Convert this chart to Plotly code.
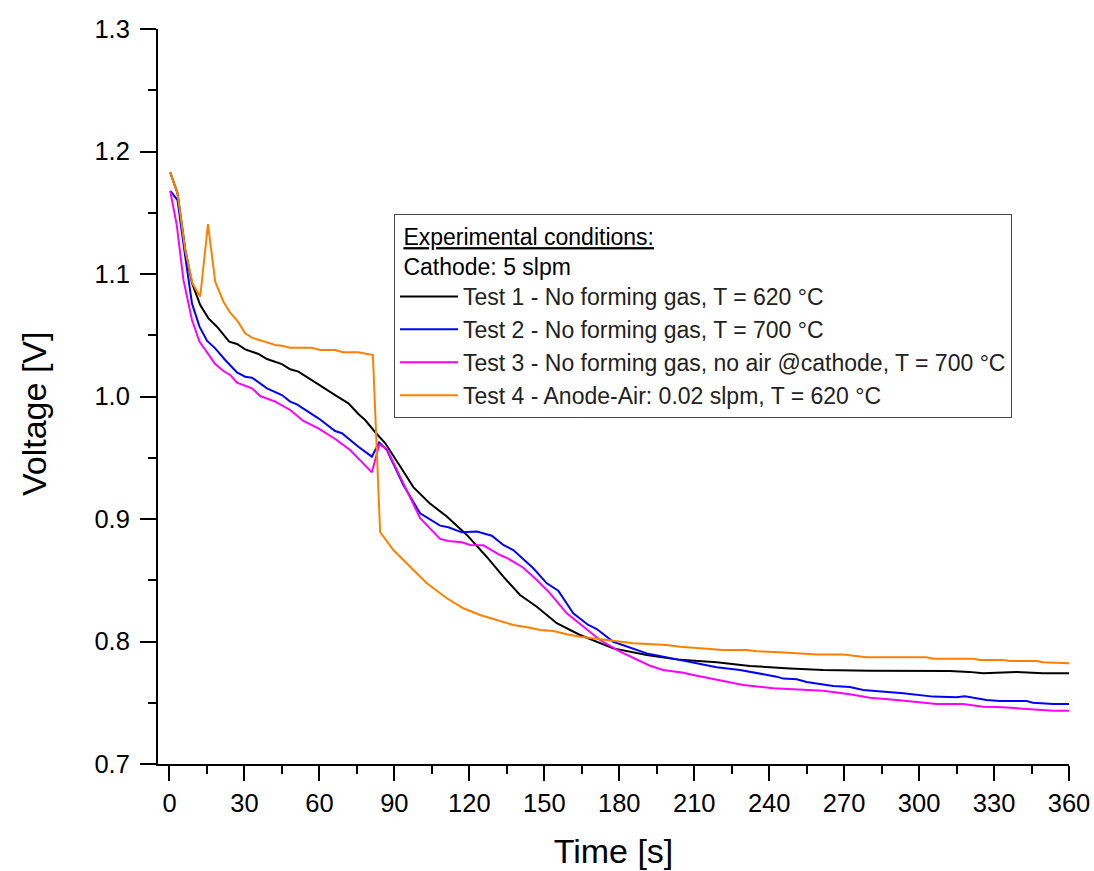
import plotly.graph_objects as go

# ---- data ----
t1 = [0.3, 3.2, 6.3, 9, 12.3, 15.6, 19, 23.9, 27, 30.3, 35.6, 39, 45, 48.3, 51.6, 57, 61, 66.3, 71.6, 75.6,
      78.3, 82.7, 86.3, 92.3, 97.6, 104, 111, 119, 127, 133.6, 140.3, 147, 155, 164.3, 177.6, 191, 204.3, 219,
      232.3, 248.3, 261.6, 280.3, 312.3, 320, 325.7, 339, 349.6, 360]
v1 = [1.183, 1.166, 1.12, 1.0927, 1.0747, 1.0638, 1.057, 1.0448, 1.0429, 1.0385, 1.0347, 1.0306, 1.0265,
      1.0222, 1.0203, 1.0129, 1.008, 1.0012, 0.9944, 0.9857, 0.9808, 0.970, 0.962, 0.943, 0.926, 0.913, 0.902,
      0.887, 0.869, 0.853, 0.838, 0.8284, 0.8149, 0.8053, 0.7944, 0.789, 0.785, 0.783, 0.780, 0.778, 0.7767,
      0.7762, 0.7759, 0.7752, 0.774, 0.7751, 0.774, 0.774]

t2 = [0.3, 3.2, 6.3, 9, 12, 15, 18.3, 22.3, 27, 30.3, 33, 39, 45, 48.3, 51, 59.6, 66.3, 69, 75.6, 81,
      83.9, 87, 93.6, 100.3, 108.3, 111.6, 117, 123, 129, 133.6, 137.6, 145.6, 151, 155.6, 161.6, 167.6, 171,
      177.6, 191, 205.6, 219, 228.3, 243, 245.6, 251, 255, 265.6, 272.3, 277.6, 293.6, 305.6, 315, 318.3, 327,
      332.3, 343, 345.6, 353.6, 360]
v2 = [1.1678, 1.1604, 1.1141, 1.076, 1.057, 1.0456, 1.0393, 1.0298, 1.0197, 1.0162, 1.0154, 1.0067, 1.0012,
      0.9958, 0.9936, 0.9822, 0.9718, 0.970, 0.959, 0.9509, 0.9625, 0.9563, 0.9278, 0.9046, 0.8946, 0.8932,
      0.8891, 0.8897, 0.8864, 0.8788, 0.8747, 0.8598, 0.8475, 0.8415, 0.823, 0.8135, 0.8102, 0.7998, 0.7903,
      0.7841, 0.779, 0.7767, 0.7713, 0.7697, 0.7691, 0.767, 0.7637, 0.7629, 0.7604, 0.7577, 0.755, 0.7544,
      0.7553, 0.7522, 0.7514, 0.7514, 0.75, 0.749, 0.749]

t3 = [0.3, 2.9, 5.6, 9, 12, 15, 18.3, 21.6, 24.3, 27, 33, 36.3, 42.3, 48.3, 53.6, 59.6, 66.3, 72.3, 76.3, 81,
      84, 87, 93.6, 100.3, 108.3, 111.6, 117, 120.3, 125.6, 132.3, 135.6, 141.6, 147, 152.3, 159, 165.6, 172.3,
      180.3, 187, 192.3, 197.6, 205.6, 209.6, 219, 229.6, 241.6, 252.3, 261.6, 272.3, 280.3, 291, 307, 317.6,
      325.7, 333.6, 344.3, 353.6, 360]
v3 = [1.1678, 1.14, 1.095, 1.0624, 1.0448, 1.0361, 1.0265, 1.0208, 1.0176, 1.0113, 1.0067, 1.0004, 0.9958,
      0.989, 0.980, 0.974, 0.9653, 0.9563, 0.9482, 0.9381, 0.961, 0.957, 0.9291, 0.9006, 0.8837, 0.882, 0.881,
      0.8788, 0.8785, 0.8706, 0.8676, 0.8602, 0.8502, 0.8393, 0.823, 0.8121, 0.8012, 0.7917, 0.7849, 0.7802,
      0.7767, 0.7745, 0.7727, 0.7686, 0.7645, 0.7618, 0.761, 0.7598, 0.7569, 0.7541, 0.7522, 0.749, 0.749,
      0.7468, 0.7463, 0.7447, 0.7435, 0.7435]

t4 = [0.3, 3.2, 6.3, 9.2, 12.3, 15.4, 18.3, 21.6, 24.3, 27.4, 30.3, 33, 39, 42.3, 45, 48.3, 57, 60.3, 66.3,
      69.4, 75.6, 81.4, 84.3, 89.6, 97.6, 103, 111, 117.6, 124.3, 131, 137.6, 144.3, 148.3, 153.6, 159, 164.3,
      175, 185.6, 199, 204.3, 216.3, 221.6, 231, 235, 244.3, 253.6, 259, 269.6, 275, 279, 303, 305.6, 321.6,
      324.3, 333.6, 336.3, 347, 349.6, 360]
v4 = [1.183, 1.166, 1.1196, 1.0924, 1.0815, 1.1408, 1.0937, 1.0774, 1.0684, 1.0611, 1.0516, 1.048, 1.0442,
      1.042, 1.0415, 1.0398, 1.0398, 1.038, 1.038, 1.0361, 1.0361, 1.0339, 0.8894, 0.8747, 0.8584, 0.8475,
      0.8353, 0.8271, 0.8216, 0.8176, 0.8135, 0.8113, 0.8094, 0.8086, 0.8059, 0.8039, 0.8012, 0.7985, 0.7971,
      0.7958, 0.7939, 0.793, 0.793, 0.792, 0.7912, 0.790, 0.7893, 0.7893, 0.7882, 0.7871, 0.7871, 0.786, 0.786,
      0.7849, 0.7849, 0.7841, 0.7841, 0.783, 0.7822]

names = ["Test 1 - No forming gas, T = 620 °C",
         "Test 2 - No forming gas, T = 700 °C",
         "Test 3 - No forming gas, no air @cathode, T = 700 °C",
         "Test 4 - Anode-Air: 0.02 slpm, T = 620 °C"]
colors = ["#000000", "#0000FF", "#FF00FF", "#FF8000"]
legend_title = "&nbsp;<u>Experimental conditions:</u><br>&nbsp;Cathode: 5 slpm"

x_ticks = list(range(0, 361, 30))
y_ticks = [0.7, 0.8, 0.9, 1.0, 1.1, 1.2, 1.3]

FONT = "Arial, Liberation Sans, sans-serif"

fig = go.Figure()
for i, (t, v) in enumerate([(t1, v1), (t2, v2), (t3, v3), (t4, v4)]):
    fig.add_trace(go.Scatter(x=t, y=v, mode="lines", name=names[i],
                             line=dict(color=colors[i], width=2), legendgroup=f"g{i}"))

axis_common = dict(showline=True, linecolor="black", linewidth=2, ticks="outside",
                   tickwidth=2, tickcolor="black", showgrid=False, zeroline=False,
                   mirror=False, automargin=False,
                   tickfont=dict(size=25.5, color="black", family=FONT))

fig.update_xaxes(range=[-4.6, 360], tickvals=x_ticks, ticklen=15,
                 minor=dict(dtick=15, tick0=0, ticklen=8, tickwidth=2, tickcolor="black", ticks="outside"),
                 title=dict(text="Time [s]", font=dict(size=34, color="black", family=FONT), standoff=24),
                 **axis_common)
fig.update_yaxes(range=[0.7, 1.3], tickvals=y_ticks, tickformat=".1f", ticklen=16,
                 minor=dict(dtick=0.05, tick0=0.7, ticklen=8, tickwidth=2, tickcolor="black", ticks="outside"),
                 ticklabelstandoff=5,
                 **axis_common)

fig.add_annotation(text="Voltage [V]", textangle=-90, xref="paper", yref="paper",
                   x=(34 - 158) / 911, y=(764 - 414) / 735, xanchor="center", yanchor="middle",
                   showarrow=False, font=dict(size=34, color="black", family=FONT))

fig.update_layout(
    width=1094, height=871,
    margin=dict(l=158, r=25, t=29, b=107),
    paper_bgcolor="white", plot_bgcolor="white",
    font=dict(family=FONT, color="black"),
    showlegend=True,
    legend=dict(x=(394 - 158) / 911, y=0.748, xanchor="left", yanchor="top",
                title=dict(text=legend_title, font=dict(size=23, color="black", family=FONT)),
                font=dict(size=23, color="#222", family=FONT),
                bgcolor="white", bordercolor="#444", borderwidth=1,
                tracegroupgap=0, itemwidth=58),
)

fig.write_html("out.html")
